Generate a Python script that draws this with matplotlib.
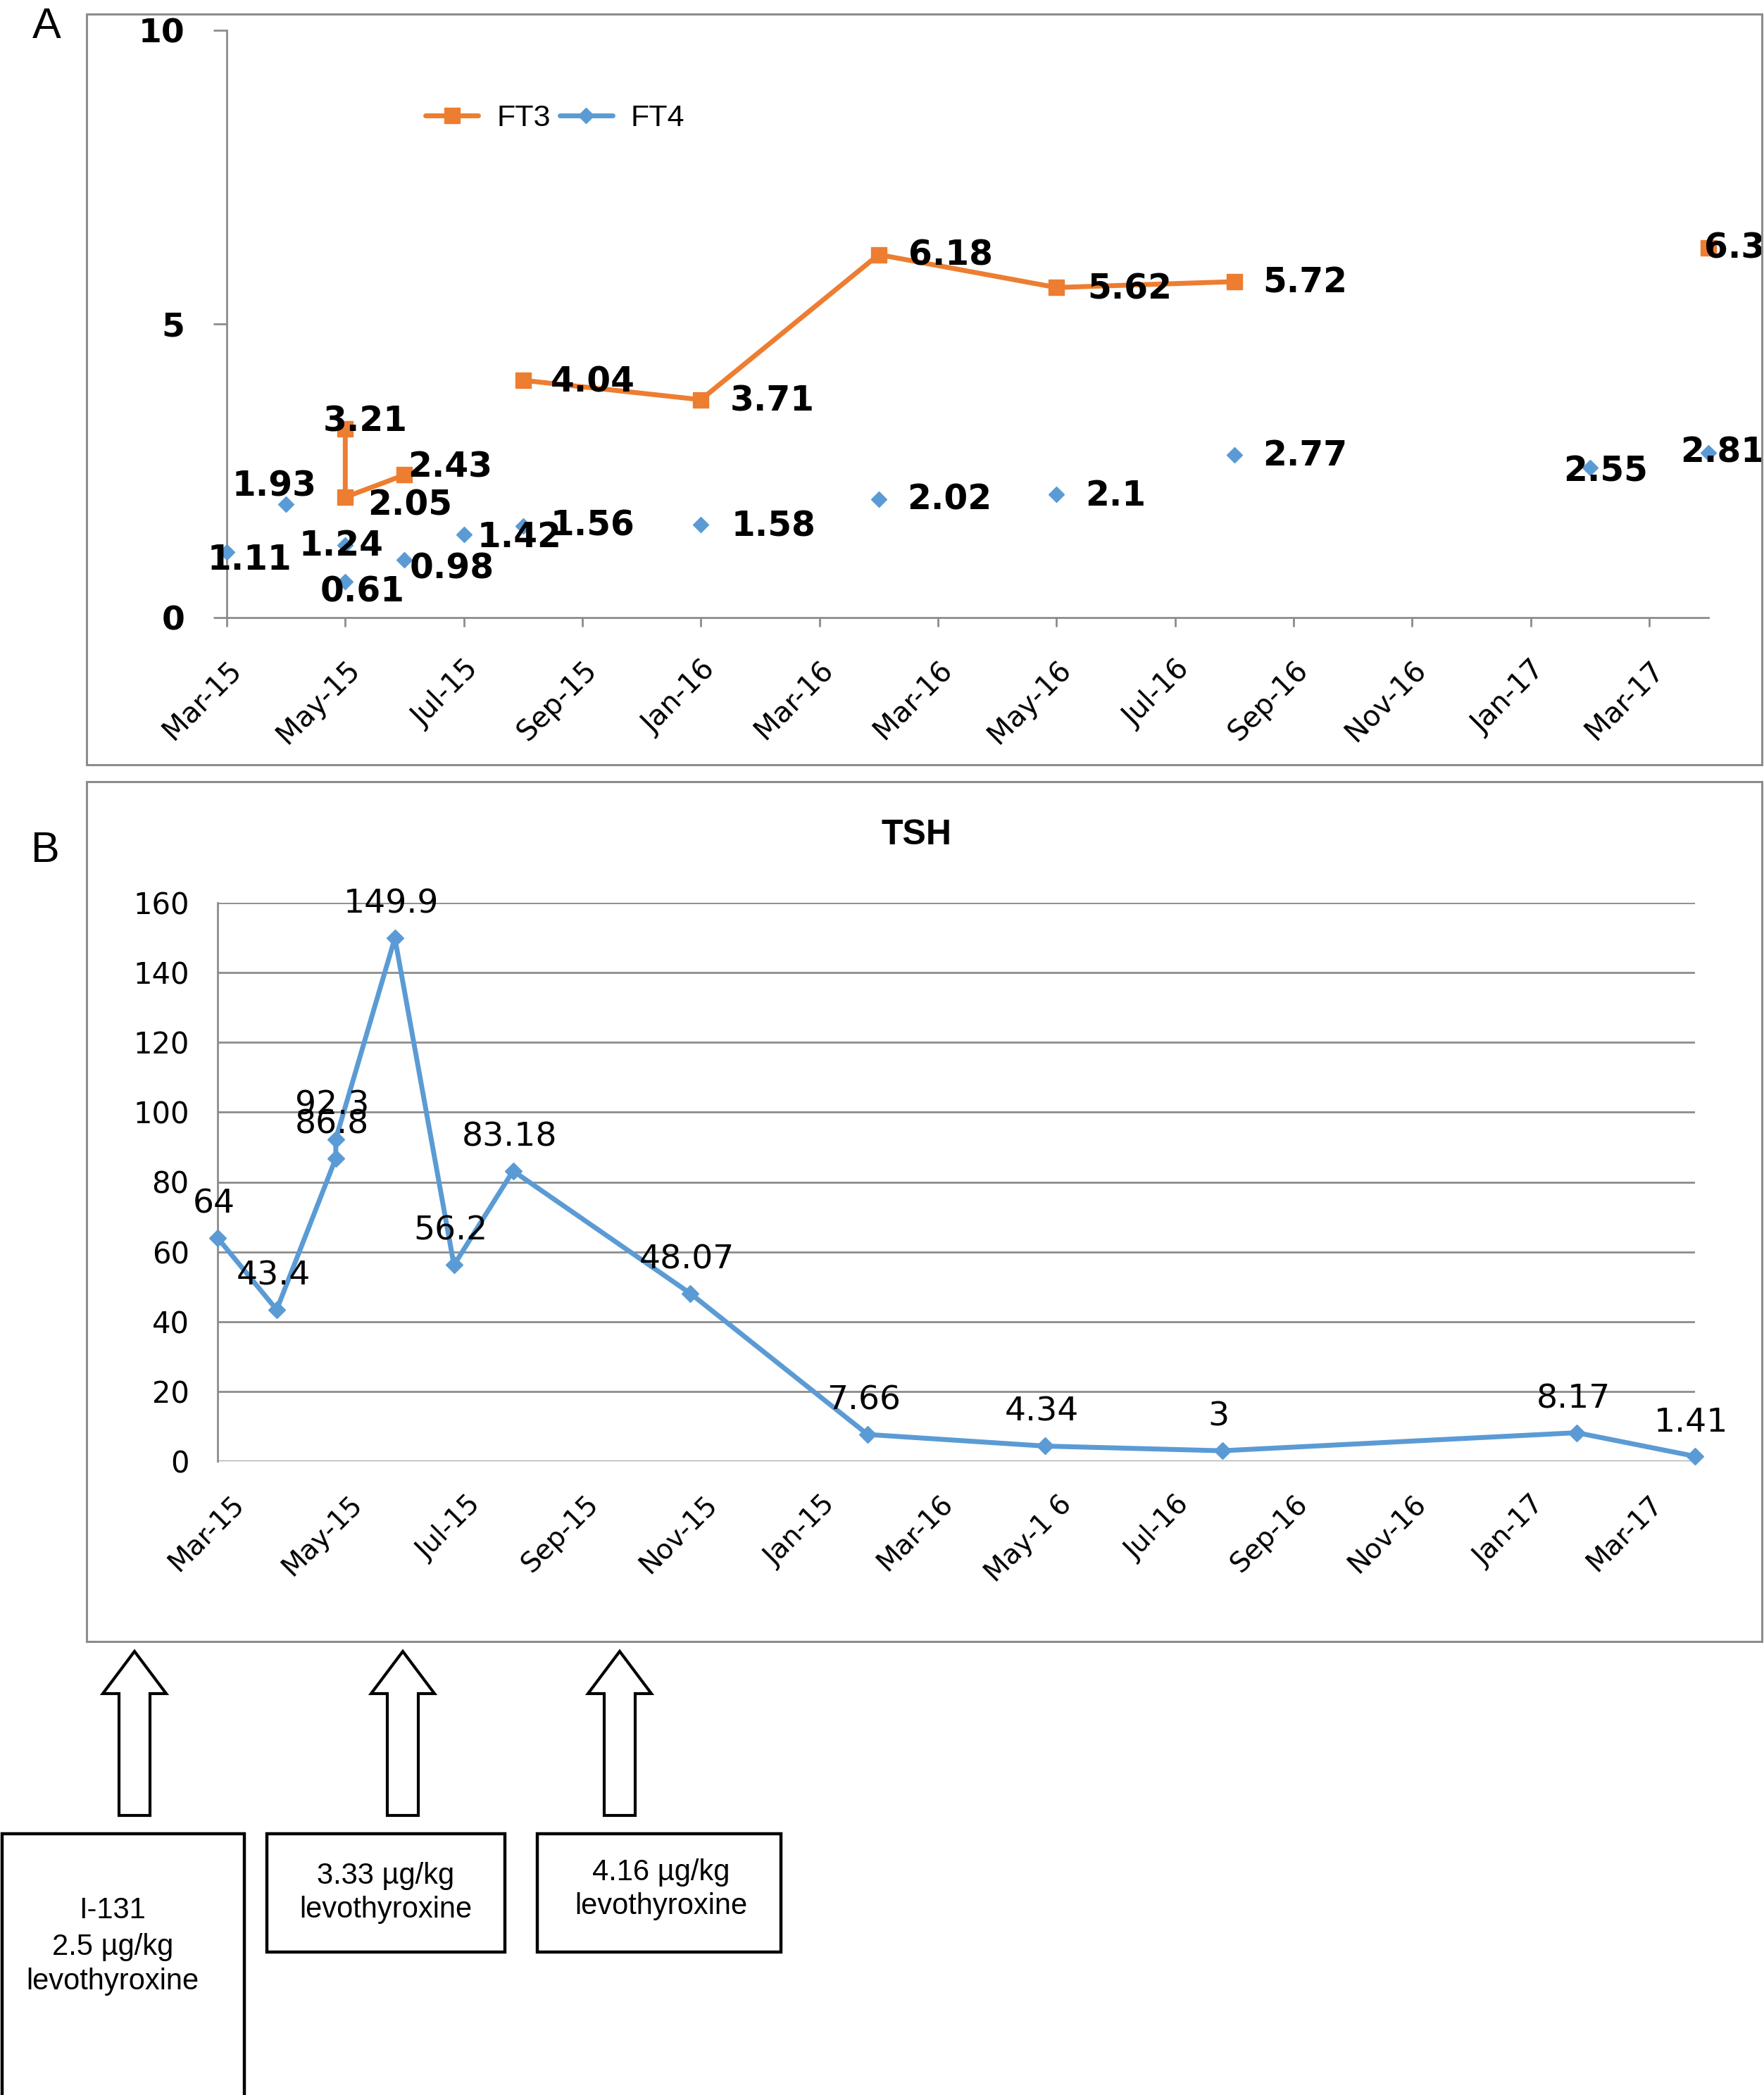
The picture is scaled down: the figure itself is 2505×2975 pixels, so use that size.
import numpy as np
import pandas as pd
import matplotlib
matplotlib.use('Agg')
import matplotlib.pyplot as plt
from matplotlib.lines import Line2D
from matplotlib.patches import Rectangle, Polygon
from matplotlib.transforms import ScaledTranslation

# sampling dates shared by both panels (two samples in May-15)
dates = ['2015-03', '2015-04', '2015-05', '2015-05', '2015-06', '2015-07', '2015-08',
         '2015-11', '2016-02', '2016-05', '2016-08', '2017-02', '2017-04']
ft3 = [np.nan, np.nan, 3.21, 2.05, 2.43, np.nan, 4.04, 3.71, 6.18, 5.62, 5.72, np.nan, 6.3]
ft4 = [1.11, 1.93, 1.24, 0.61, 0.98, 1.42, 1.56, 1.58, 2.02, 2.1, 2.77, 2.55, 2.81]
tsh = [64, 43.4, 86.8, 92.3, 149.9, 56.2, 83.18, 48.07, 7.66, 4.34, 3, 8.17, 1.41]

labels_a = ['Mar-15', 'May-15', 'Jul-15', 'Sep-15', 'Jan-16', 'Mar-16', 'Mar-16',
            'May-16', 'Jul-16', 'Sep-16', 'Nov-16', 'Jan-17', 'Mar-17']
labels_b = ['Mar-15', 'May-15', 'Jul-15', 'Sep-15', 'Nov-15', 'Jan-15', 'Mar-16',
            'May-1 6', 'Jul-16', 'Sep-16', 'Nov-16', 'Jan-17', 'Mar-17']

treatments = [['I-131', '2.5 µg/kg', 'levothyroxine'],
              ['3.33 µg/kg', 'levothyroxine'],
              ['4.16 µg/kg', 'levothyroxine']]

# label offsets (pixels) for panel A data labels
ft3_off = [None, None, (-32, 11), (32, -11), (5, 11), None, (39, -2), (41, -2),
           (42, -1), (44, -2), (41, -2), None, (-6, -1)]
ft4_off = [(-27, -11), (-77, 26), (-66, -1), (-36, -14), (7, -12), (19, -4), (39, 0),
           (43, -2), (40, -1), (41, -2), (40, -1), (-38, -5), (-40, 0)]

orange = '#ED7D31'
blue = '#5B9BD5'
gray = '#8C8C8C'

W, H = 2505, 2975
fig = plt.figure(figsize=(W / 100, H / 100), dpi=100)


def fx(px):
    return px / W


def fy(py):
    return 1 - py / H


per = pd.PeriodIndex(dates, freq='M')
x = np.array(per.year * 12 + per.month) - (per[0].year * 12 + per[0].month)
tick_pos = np.arange(0, 25, 2)

# ---------------- panel A ----------------
axA = fig.add_axes([fx(322), fy(877), (2426 - 322) / W, (877 - 43) / H])
axA.set_xlim(0, 25)
axA.set_ylim(0, 10)
for s in ['top', 'right']:
    axA.spines[s].set_visible(False)
for s in ['left', 'bottom']:
    axA.spines[s].set_color(gray)
    axA.spines[s].set_linewidth(2)

axA.plot(x, ft3, color=orange, lw=5, marker='s', ms=16, clip_on=False, zorder=3)
axA.plot(x, ft4, ls='none', marker='D', ms=11, color=blue, clip_on=False, zorder=3)

for xi, v, off in zip(x, ft3, ft3_off):
    if off is None:
        continue
    axA.annotate(f'{v:g}', (xi, v), xytext=off, textcoords='offset pixels',
                 ha='left', va='center', fontsize=35, fontweight='bold',
                 annotation_clip=False, zorder=5)
for xi, v, off in zip(x, ft4, ft4_off):
    axA.annotate(f'{v:g}', (xi, v), xytext=off, textcoords='offset pixels',
                 ha='left', va='center', fontsize=35, fontweight='bold',
                 annotation_clip=False, zorder=5)

axA.set_yticks([0, 5, 10])
axA.set_yticklabels(['0', '5', '10'], fontsize=34, fontweight='bold')
axA.tick_params(axis='y', direction='out', length=14, width=2, color=gray, pad=29)
axA.set_xticks(tick_pos)
axA.set_xticklabels(labels_a, rotation=45, ha='right', va='top',
                    rotation_mode='anchor', fontsize=29)
axA.tick_params(axis='x', direction='out', length=9, width=2, color=gray, pad=30)
for lbl in axA.get_xticklabels():
    lbl.set_transform(lbl.get_transform() + ScaledTranslation(0.0, 0, fig.dpi_scale_trans))

handles = [Line2D([], [], color=orange, lw=5, marker='s', ms=16, solid_capstyle='round'),
           Line2D([], [], color=blue, lw=5, marker='D', ms=11, solid_capstyle='round')]
fig.legend(handles, ['FT3', 'FT4'], loc='center left', bbox_to_anchor=(fx(604), fy(168)),
           ncol=2, frameon=False, prop={'family': 'Liberation Sans', 'size': 31},
           handlelength=1.75, handletextpad=0.6, columnspacing=0.3,
           borderpad=0, borderaxespad=0)

# ---------------- panel B ----------------
axB = fig.add_axes([fx(309), fy(2075), (2407 - 309) / W, (2075 - 1282) / H])
axB.set_xlim(0, 25)
axB.set_ylim(0, 160)
for s in ['top', 'right', 'bottom']:
    axB.spines[s].set_visible(False)
axB.spines['left'].set_color(gray)
axB.spines['left'].set_linewidth(2)
axB.set_axisbelow(True)
axB.yaxis.grid(True, color=gray, lw=2)
axB.set_yticks(np.arange(0, 161, 20))
axB.set_yticklabels([str(v) for v in range(0, 161, 20)], fontsize=30)
axB.tick_params(axis='y', length=0, pad=29)

axB.plot(x, tsh, color=blue, lw=5, marker='D', ms=12, clip_on=False, zorder=3)
for xi, v in zip(x, tsh):
    axB.annotate(f'{v:g}', (xi, v), xytext=(-5, 48), textcoords='offset pixels',
                 ha='center', va='center', fontsize=34, annotation_clip=False, zorder=5)

axB.set_xticks(tick_pos)
axB.set_xticklabels(labels_b, rotation=45, ha='right', va='top',
                    rotation_mode='anchor', fontsize=28)
axB.tick_params(axis='x', length=0, pad=30)
for lbl in axB.get_xticklabels():
    lbl.set_transform(lbl.get_transform() + ScaledTranslation(0.18, 0, fig.dpi_scale_trans))

fig.text(fx(1302), fy(1186), 'TSH', ha='center', va='center', fontsize=36,
         fontweight='bold', family='Liberation Sans')

# ---------------- frames and panel letters ----------------
for top, bottom in [(20, 1086), (1110, 2331)]:
    fig.patches.append(Rectangle((fx(123), fy(bottom)), (2502 - 123) / W, (bottom - top) / H,
                                 transform=fig.transFigure, fill=False, ec=gray, lw=2.2))
fig.text(fx(66), fy(39), 'A', ha='center', va='center', fontsize=44, family='Liberation Sans')
fig.text(fx(64), fy(1208), 'B', ha='center', va='center', fontsize=44, family='Liberation Sans')

# ---------------- treatment arrows and boxes ----------------
arrow_x = [191, 572, 880]
boxes = [(3, 347, 2604, 2990), (379, 717, 2604, 2772), (763, 1109, 2604, 2772)]
text_x = [160, 548, 939]
text_y = [[2713, 2765, 2814], [2664, 2712], [2659, 2707]]

for cx in arrow_x:
    pts = [(cx, 2345), (cx + 45, 2405), (cx + 22, 2405), (cx + 22, 2578),
           (cx - 22, 2578), (cx - 22, 2405), (cx - 45, 2405)]
    fig.patches.append(Polygon([(fx(a), fy(b)) for a, b in pts], closed=True,
                               transform=fig.transFigure, fc='white', ec='black',
                               lw=3, joinstyle='miter'))

for (x0, x1, y0, y1), lines, tx, ys in zip(boxes, treatments, text_x, text_y):
    fig.patches.append(Rectangle((fx(x0), fy(y1)), (x1 - x0) / W, (y1 - y0) / H,
                                 transform=fig.transFigure, fill=False, ec='black',
                                 lw=3.2, joinstyle='miter'))
    for line, yy in zip(lines, ys):
        fig.text(fx(tx), fy(yy), line, ha='center', va='center', fontsize=30,
                 family='Liberation Sans')

fig.savefig('out.png', dpi=100)
